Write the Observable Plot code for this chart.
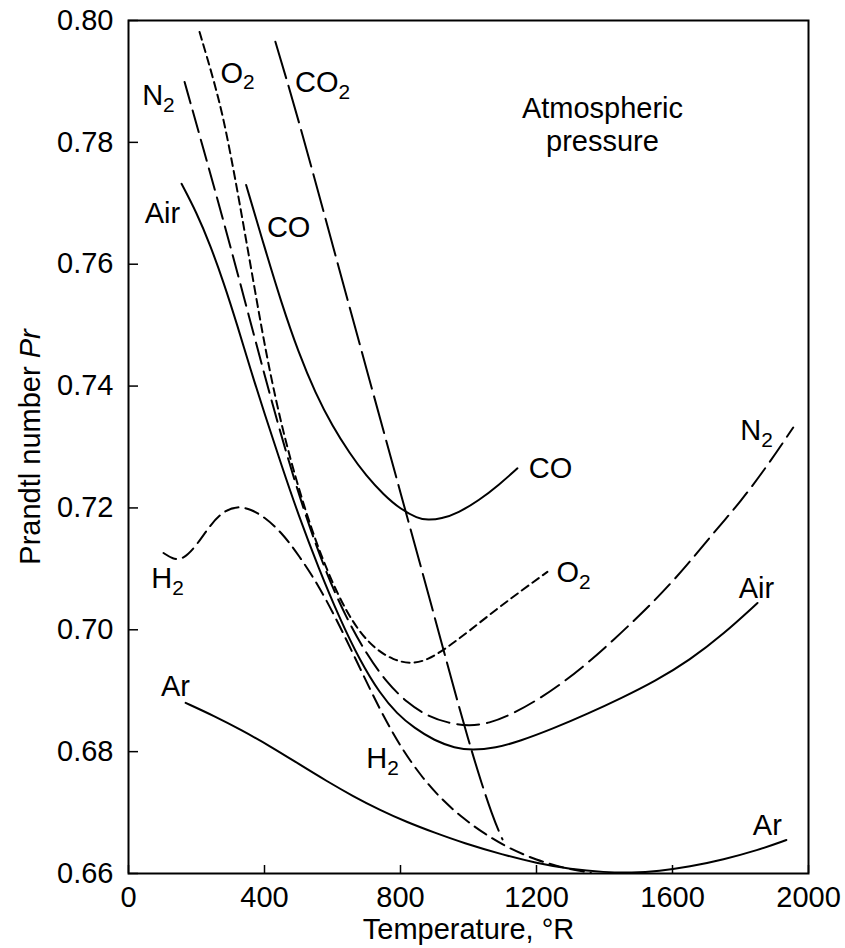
<!DOCTYPE html>
<html><head><meta charset="utf-8">
<script src="https://cdn.jsdelivr.net/npm/d3@7"></script>
<script src="https://cdn.jsdelivr.net/npm/@observablehq/plot@0.6"></script>
<style>
html,body{margin:0;padding:0;background:#fff;}
#chart svg{font-family:"Liberation Sans",Arial,Helvetica,sans-serif;}
</style></head><body><div id="chart"></div>
<script>
// ---- data (temperature °R, Prandtl number) ----
const airT  = [156,200,240,280,320,360,400,450,500,560,620,680,740,790,840,900,960,1010,1080,1150,1250,1350,1450,1550,1650,1750,1850];
const airPr = [.7732,.7685,.7632,.7570,.7500,.7425,.7355,.7270,.7188,.7100,.7020,.6950,.6895,.6862,.6839,.6818,.6806,.6802,.6806,.6817,.6838,.6862,.6888,.6916,.6950,.6993,.7044];
const n2T   = [165,220,280,340,400,460,520,580,640,700,760,820,880,940,1000,1060,1130,1200,1270,1350,1430,1500,1565,1640,1722,1800,1880,1955];
const n2Pr  = [.7899,.7790,.7670,.7545,.7418,.7297,.7188,.7095,.7020,.6960,.6913,.6880,.6858,.6847,.6842,.6846,.6862,.6884,.6910,.6945,.6985,.7022,.7058,.7104,.7160,.7210,.7270,.7332];
const o2T   = [209,251,280,309,330,349,370,390,410,440,480,540,600,660,720,780,830,880,940,1000,1085,1160,1232];
const o2Pr  = [.7981,.7902,.7838,.7755,.7690,.7630,.7563,.7500,.7440,.7360,.7270,.7160,.7075,.7010,.6970,.6950,.6944,.6950,.6972,.6997,.7035,.7066,.7095];
const coT   = [346,400,450,500,550,600,650,700,750,800,850,880,920,970,1030,1090,1144];
const coPr  = [.7730,.7628,.7536,.7455,.7388,.7334,.7290,.7252,.7222,.7198,.7183,.7180,.7182,.7192,.7212,.7238,.7265];
const co2T  = [432,500,600,700,800,900,950,1000,1040,1070,1090,1100];
const co2Pr = [.7965,.7838,.7632,.7428,.7225,.7022,.6918,.6818,.6745,.6696,.6668,.6656];
const h2T   = [103,130,160,200,240,280,320,360,400,450,500,560,620,680,740,800,860,920,985,1050,1120,1200,1280,1360];
const h2Pr  = [.7126,.7116,.7115,.7138,.7172,.7195,.7203,.7198,.7185,.7160,.7123,.7072,.7008,.6938,.6868,.6808,.6760,.6722,.6690,.6664,.6641,.6622,.6609,.6601];
const arT   = [168,250,330,420,500,585,660,740,820,900,985,1100,1200,1300,1400,1480,1560,1650,1750,1850,1935];
const arPr  = [.6880,.6859,.6836,.6808,.6780,.6751,.6727,.6704,.6684,.6667,.6650,.6631,.6617,.6607,.6602,.6601,.6604,.6611,.6623,.6638,.6655];

const xTicks = [0,400,800,1200,1600,2000];
const yTicks = [0.66,0.68,0.70,0.72,0.74,0.76,0.78,0.80];

const labelText = ["N2","O2","CO2","Air","CO","H2","Ar","H2","CO","O2","N2","Air","Ar","Atmospheric\npressure"];
const labelT    = [88,321,571,100,471,115,138,747,1241,1309,1847,1847,1879,1394];
const labelPr   = [.7878,.7915,.7899,.7684,.7661,.7085,.6909,.6790,.7267,.7095,.7328,.7070,.6680,.7830];

// ---- build tables ----
const series = [
  ["Air", airT, airPr], ["N2", n2T, n2Pr], ["O2", o2T, o2Pr], ["CO", coT, coPr],
  ["CO2", co2T, co2Pr], ["H2", h2T, h2Pr], ["Ar", arT, arPr]
];
const rows = series.flatMap(([gas, T, P]) => T.map((t, i) => ({gas, T: t, Pr: P[i]})));
const labels = labelText.map((text, i) => ({text, T: labelT[i], Pr: labelPr[i]}));

const dash = {Air: null, CO: null, Ar: null, N2: "22,8", CO2: "38,8", O2: "8,5", H2: "14,7"};

const lineMarks = series.map(([gas]) =>
  Plot.line(rows.filter(d => d.gas === gas), {
    x: "T", y: "Pr", stroke: "#000", strokeWidth: 2,
    strokeDasharray: dash[gas], curve: "basis"
  })
);

const W = 845, H = 948, ML = 128, MR = 37, MT = 20, MB = 75;
const FS = 29;
const chart = Plot.plot({
  width: W, height: H,
  marginLeft: ML, marginRight: MR, marginTop: MT, marginBottom: MB,
  style: {fontFamily: '"Liberation Sans", Arial, sans-serif', fontSize: FS + "px", color: "#000", background: "#fff"},
  x: {domain: [0, 2000]},
  y: {domain: [0.66, 0.80]},
  marks: [
    ...lineMarks,
    // inward tick marks
    Plot.tickX(xTicks, {x: d => d, stroke: "#000", strokeWidth: 1.5, insetTop: (H - MT - MB) - 8}),
    Plot.tickY(yTicks, {y: d => d, stroke: "#000", strokeWidth: 1.5, insetRight: (W - ML - MR) - 10}),
    Plot.frame({stroke: "#000", strokeWidth: 2}),
    Plot.axisX({ticks: xTicks, tickSize: 0, tickPadding: 13, tickFormat: d => String(d),
      label: "Temperature, °R", labelAnchor: "center", labelArrow: "none", labelOffset: 65}),
    Plot.axisY({ticks: yTicks, tickSize: 0, tickPadding: 15, tickFormat: d3.format(".2f"),
      label: "Prandtl number Pr", labelAnchor: "center", labelArrow: "none", labelOffset: 109}),
    Plot.text(labels, {x: "T", y: "Pr", text: "text", fill: "#000", fontSize: FS, lineHeight: 1.12, textAnchor: "middle"})
  ]
});

// subscripts and italics as real text
const NS = "http://www.w3.org/2000/svg";
chart.querySelectorAll("text").forEach(t => {
  if (t.querySelector("tspan")) return;
  const s = t.textContent;
  const m = /^(N|O|H|CO)2$/.exec(s);
  if (m) {
    t.textContent = m[1];
    const sub = document.createElementNS(NS, "tspan");
    sub.setAttribute("font-size", "0.72em");
    sub.setAttribute("dy", "0.32em");
    sub.textContent = "2";
    t.appendChild(sub);
  } else if (s === "Prandtl number Pr") {
    t.textContent = "Prandtl number ";
    const it = document.createElementNS(NS, "tspan");
    it.setAttribute("font-style", "italic");
    it.textContent = "Pr";
    t.appendChild(it);
  }
});
document.getElementById("chart").appendChild(chart);
</script></body></html>
